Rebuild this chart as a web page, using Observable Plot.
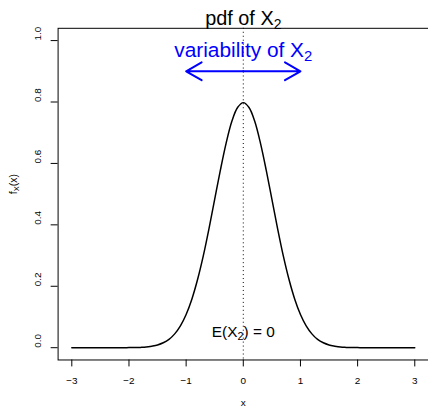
<!DOCTYPE html>
<html><head><meta charset="utf-8">
<script src="https://cdn.jsdelivr.net/npm/d3@7"></script>
<script src="https://cdn.jsdelivr.net/npm/@observablehq/plot@0.6"></script>
<style>html,body{margin:0;padding:0;overflow:hidden;background:#fff}</style>
</head><body><div id="chart"></div>
<script>
// Curve points (density of X2)
const xs = [-3.0,-2.9,-2.8,-2.7,-2.6,-2.5,-2.4,-2.3,-2.2,-2.1,
            -2.0,-1.9,-1.8,-1.7,-1.6,-1.5,-1.4,-1.3,-1.2,-1.1,
            -1.0,-0.9,-0.8,-0.7,-0.6,-0.5,-0.4,-0.3,-0.2,-0.1,
             0.0, 0.1, 0.2, 0.3, 0.4, 0.5, 0.6, 0.7, 0.8, 0.9,
             1.0, 1.1, 1.2, 1.3, 1.4, 1.5, 1.6, 1.7, 1.8, 1.9,
             2.0, 2.1, 2.2, 2.3, 2.4, 2.5, 2.6, 2.7, 2.8, 2.9, 3.0];
const fx = [0,0,0,0,0,0,0,0,0,0,
            0.0003,0.0005,0.001,0.002,0.005,0.009,0.016,0.027,0.045,0.071,
            0.108,0.158,0.222,0.299,0.388,0.484,0.579,0.666,0.737,0.782,
            0.798,0.782,0.737,0.666,0.579,0.484,0.388,0.299,0.222,0.158,
            0.108,0.071,0.045,0.027,0.016,0.009,0.005,0.002,0.001,0.0005,
            0.0003,0,0,0,0,0,0,0,0,0,0];
const xTicks = [-3,-2,-1,0,1,2,3];
const xTickLabels = ["\u22123","\u22122","\u22121","0","1","2","3"];
const yTicks = [0,0.2,0.4,0.6,0.8,1.0];
const yTickLabels = ["0.0","0.2","0.4","0.6","0.8","1.0"];
const meanX = [0];
const arrowSpan = [{x1:0, x2:-1, y:0.9},{x1:0, x2:1, y:0.9}];

const data = xs.map((x,i)=>({x, y: fx[i]}));
const font = "'Liberation Sans', Arial, Helvetica, sans-serif";

const svg = Plot.plot({
  width: 431, height: 413,
  marginLeft: 58, marginRight: 0, marginTop: 28, marginBottom: 51,
  x: {domain: [-3.24, 3.24]},
  y: {domain: [-0.04, 1.04]},
  style: {fontFamily: font, fontSize: "10px", background: "white", color: "black"},
  marks: [
    Plot.frame({stroke: "black", strokeWidth: 1}),
    Plot.ruleX(meanX, {x: d=>d, stroke: "black", strokeDasharray: "1,3", strokeWidth: 1}),
    Plot.line(data, {x: "x", y: "y", stroke: "black", strokeWidth: 1.5, curve: "catmull-rom"}),
    Plot.arrow(arrowSpan, {x1: "x1", x2: "x2", y1: "y", y2: "y", stroke: "#0000ff", strokeWidth: 2, headAngle: 60, headLength: 13.5}),
    Plot.axisX({ticks: xTicks, tickSize: 7, tickPadding: 10, tickFormat: d => xTickLabels[xTicks.indexOf(d)], label: null}),
    Plot.axisY({ticks: yTicks, tickSize: 7, tickFormat: () => "", label: null}),
    Plot.text(yTicks, {y: d=>d, text: (d,i)=>yTickLabels[i], frameAnchor: "left", dx: -20, rotate: -90, fontSize: 10}),
    Plot.text(["x"], {text: d=>d, frameAnchor: "bottom", dy: 46, fontSize: 10}),
    Plot.text(["fX(x)"], {text: d=>d, frameAnchor: "left", dx: -45, rotate: -90, fontSize: 10.5}),
    Plot.text(["pdf of X2"], {x: 0, text: d=>d, frameAnchor: "top", dy: -3, lineAnchor: "bottom", fontSize: 20}),
    Plot.text(["variability of X2"], {x: 0, y: 0.948, text: d=>d, lineAnchor: "bottom", fontSize: 21, fill: "#0000ff"}),
    Plot.text(["E(X2) = 0"], {x: 0, y: 0.035, text: d=>d, lineAnchor: "bottom", fontSize: 15.5, fill: "black"})
  ]
});

function sub(root, content, parts) {
  d3.select(root).selectAll("text").filter(function(){ return this.textContent === content; }).each(function(){
    const t = d3.select(this);
    t.text(null);
    parts.forEach(p => {
      const ts = t.append("tspan").text(p[0]);
      if (p[1]) ts.attr("font-size", p[1]);
      if (p[2]) ts.attr("dy", p[2]);
    });
  });
}
sub(svg, "pdf of X2", [["pdf of X"],["2", 14, 4]]);
sub(svg, "variability of X2", [["variability of X"],["2", 15, 4]]);
sub(svg, "E(X2) = 0", [["E(X"],["2", 11, 3],[") = 0", null, -3]]);
sub(svg, "fX(x)", [["f"],["X", 7.5, 2],["(x)", null, -2]]);

document.getElementById("chart").appendChild(svg);
</script>
</body></html>
